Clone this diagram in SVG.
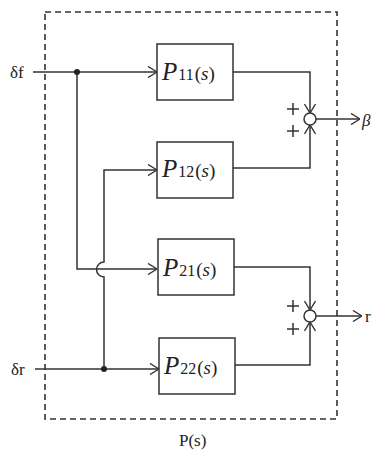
<svg xmlns="http://www.w3.org/2000/svg" width="382" height="454" viewBox="0 0 382 454">
<defs>
<marker id="arr" viewBox="0 0 10 12" refX="10" refY="6" markerWidth="10" markerHeight="12" markerUnits="userSpaceOnUse" orient="auto">
<path d="M1,0.5 L10,6 L1,11.5" fill="none" stroke="#333" stroke-width="1.4"/>
</marker>
</defs>
<style>
.ln{fill:none;stroke:#333;stroke-width:1.5}
.bx{fill:#fff;stroke:#333;stroke-width:1.5}
.dash{fill:none;stroke:#333;stroke-width:1.6;stroke-dasharray:6,4}
.t{font-family:"Liberation Serif",serif;fill:#222}
.P{font-style:italic;font-size:25px}
.sub{font-size:16px}
.s{font-size:19px}
</style>
<rect width="382" height="454" fill="#fff"/>
<rect class="dash" x="45" y="12" width="292" height="407"/>
<text class="t" x="179" y="446" font-size="17">P(s)</text>
<g id="connectors">
<path class="ln" d="M33,72 H157" marker-end="url(#arr)"/>
<path class="ln" d="M77,72 V269 H157" marker-end="url(#arr)"/>
<path class="ln" d="M104,369 V277 A7.5,7.5 0 0 1 104,262 V170 H157" marker-end="url(#arr)"/>
<path class="ln" d="M35,369 H159" marker-end="url(#arr)"/>
<circle cx="77" cy="72" r="3" fill="#222"/>
<circle cx="104" cy="369" r="3" fill="#222"/>
<path class="ln" d="M233,72 H310 V113" marker-end="url(#arr)"/>
<path class="ln" d="M233,168 H310 V125" marker-end="url(#arr)"/>
<path class="ln" d="M316,119 H360" marker-end="url(#arr)"/>
<path class="ln" d="M234,267 H310 V310" marker-end="url(#arr)"/>
<path class="ln" d="M234,365 H310 V322" marker-end="url(#arr)"/>
<path class="ln" d="M316,316 H362" marker-end="url(#arr)"/>
</g>
<g id="sum1">
<circle class="ln" cx="310" cy="119" r="6"/>
<path class="ln" d="M287,109 H299 M293,103 V115 M287,131 H299 M293,125 V137" stroke-width="1.2"/>
</g>
<g id="sum2">
<circle class="ln" cx="310" cy="316" r="6"/>
<path class="ln" d="M287,306 H299 M293,300 V312 M287,329 H299 M293,323 V335" stroke-width="1.2"/>
</g>
<g id="P11">
<rect class="bx" x="157" y="44" width="76" height="56"/>
<text class="t" x="162" y="80"><tspan class="P">P</tspan><tspan class="sub" dx="1">11</tspan><tspan class="s" dx="1">(</tspan><tspan class="s" font-style="italic">s</tspan><tspan class="s">)</tspan></text>
</g>
<g id="P12">
<rect class="bx" x="157" y="142" width="76" height="56"/>
<text class="t" x="162" y="177"><tspan class="P">P</tspan><tspan class="sub" dx="1">12</tspan><tspan class="s" dx="1">(</tspan><tspan class="s" font-style="italic">s</tspan><tspan class="s">)</tspan></text>
</g>
<g id="P21">
<rect class="bx" x="158" y="239" width="76" height="56"/>
<text class="t" x="163" y="276"><tspan class="P">P</tspan><tspan class="sub" dx="1">21</tspan><tspan class="s" dx="1">(</tspan><tspan class="s" font-style="italic">s</tspan><tspan class="s">)</tspan></text>
</g>
<g id="P22">
<rect class="bx" x="159" y="338" width="76" height="56"/>
<text class="t" x="164" y="374"><tspan class="P">P</tspan><tspan class="sub" dx="1">22</tspan><tspan class="s" dx="1">(</tspan><tspan class="s" font-style="italic">s</tspan><tspan class="s">)</tspan></text>
</g>
<g id="labels">
<text class="t" x="10" y="78" font-size="17">δf</text>
<text class="t" x="11" y="375" font-size="17">δr</text>
<text class="t" x="362" y="126" font-size="17" font-style="italic">β</text>
<text class="t" x="365" y="322" font-size="17">r</text>
</g>
</svg>
